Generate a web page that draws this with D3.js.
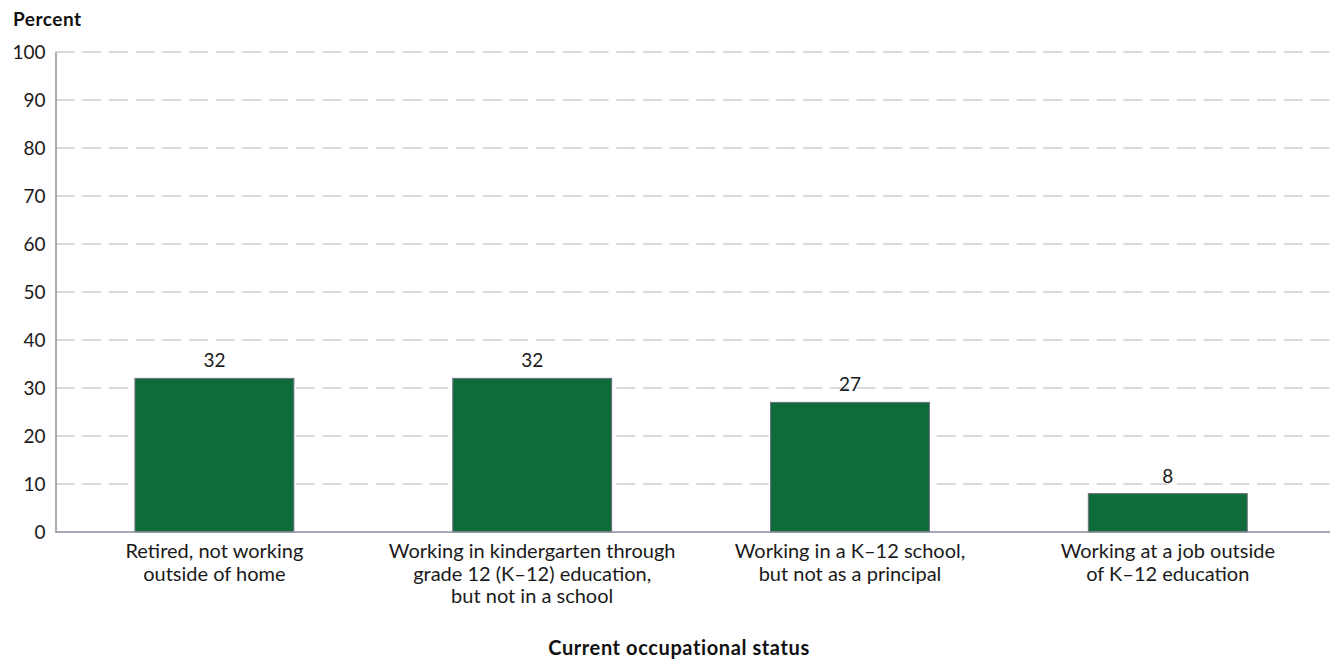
<!DOCTYPE html>
<html>
<head>
<meta charset="utf-8">
<script src="https://cdn.jsdelivr.net/npm/d3@7"></script>
<style>
  body { margin: 0; background: #fff; }
  svg { display: block; font-family: "Lato", "Open Sans", sans-serif; }
</style>
</head>
<body>
<svg id="chart" width="1333" height="662"></svg>
<script>
// Share of respondents by current occupational status (percent)
const categories = [
  ["Retired, not working", "outside of home"],
  ["Working in kindergarten through", "grade 12 (K\u201312) education,", "but not in a school"],
  ["Working in a K\u201312 school,", "but not as a principal"],
  ["Working at a job outside", "of K\u201312 education"]
];
const values = [32, 32, 27, 8];
const yTicks = [0, 10, 20, 30, 40, 50, 60, 70, 80, 90, 100];

const svg = d3.select("#chart");
const plotLeft = 55.5, plotRight = 1330, plotTop = 52, plotBottom = 532;
const step = 317.8;

const x = d3.scaleBand()
  .domain(d3.range(values.length))
  .range([plotLeft, plotLeft + values.length * step])
  .paddingInner(0.5)
  .paddingOuter(0.25);

const y = d3.scaleLinear()
  .domain([0, 100])
  .range([plotBottom, plotTop]);

// dashed gridlines
svg.append("g")
  .selectAll("line")
  .data(yTicks.filter(d => d > 0))
  .join("line")
  .attr("x1", plotLeft)
  .attr("x2", plotRight)
  .attr("y1", d => y(d))
  .attr("y2", d => y(d))
  .attr("stroke", "#b3b5bc")
  .attr("stroke-width", 1.2)
  .attr("stroke-dasharray", "19,7.7");

// y axis
const yAxis = svg.append("g")
  .attr("transform", `translate(${plotLeft},0)`)
  .call(d3.axisLeft(y).tickValues(yTicks).tickSize(0).tickPadding(10));
yAxis.select(".domain").attr("stroke", "#8a8d99").attr("stroke-width", 1.4);
yAxis.selectAll("text")
  .attr("font-size", 19)
  .attr("fill", "#1a1a1a")
  .attr("font-family", "Lato, sans-serif");

// bars
svg.append("g")
  .selectAll("rect")
  .data(values)
  .join("rect")
  .attr("x", (d, i) => x(i))
  .attr("y", d => y(d))
  .attr("width", x.bandwidth())
  .attr("height", d => y(0) - y(d))
  .attr("fill", "#106b3a")
  .attr("stroke", "#6e7180")
  .attr("stroke-width", 1);

// x axis baseline
svg.append("line")
  .attr("x1", plotLeft)
  .attr("x2", plotRight)
  .attr("y1", y(0))
  .attr("y2", y(0))
  .attr("stroke", "#8a8d99")
  .attr("stroke-width", 1.4);

// value labels
svg.append("g")
  .selectAll("text")
  .data(values)
  .join("text")
  .attr("x", (d, i) => x(i) + x.bandwidth() / 2)
  .attr("y", d => y(d) - 11)
  .attr("text-anchor", "middle")
  .attr("font-size", 19)
  .attr("fill", "#1a1a1a")
  .text(d => d);

// category labels
const catG = svg.append("g")
  .selectAll("text")
  .data(categories)
  .join("text")
  .attr("x", (d, i) => x(i) + x.bandwidth() / 2)
  .attr("y", y(0) + 26)
  .attr("text-anchor", "middle")
  .attr("font-size", 20)
  .attr("fill", "#1a1a1a");
catG.selectAll("tspan")
  .data(d => d)
  .join("tspan")
  .attr("x", function () { return d3.select(this.parentNode).attr("x"); })
  .attr("dy", (d, i) => i === 0 ? 0 : 22.5)
  .text(d => d);

// axis titles
svg.append("text")
  .attr("x", 13)
  .attr("y", 26)
  .attr("font-size", 19)
  .attr("font-weight", "bold")
  .attr("letter-spacing", 0.5)
  .attr("fill", "#111")
  .text("Percent");

svg.append("text")
  .attr("x", 679)
  .attr("y", 655)
  .attr("text-anchor", "middle")
  .attr("font-size", 20)
  .attr("font-weight", "bold")
  .attr("letter-spacing", 0.6)
  .attr("fill", "#111")
  .text("Current occupational status");
</script>
</body>
</html>
